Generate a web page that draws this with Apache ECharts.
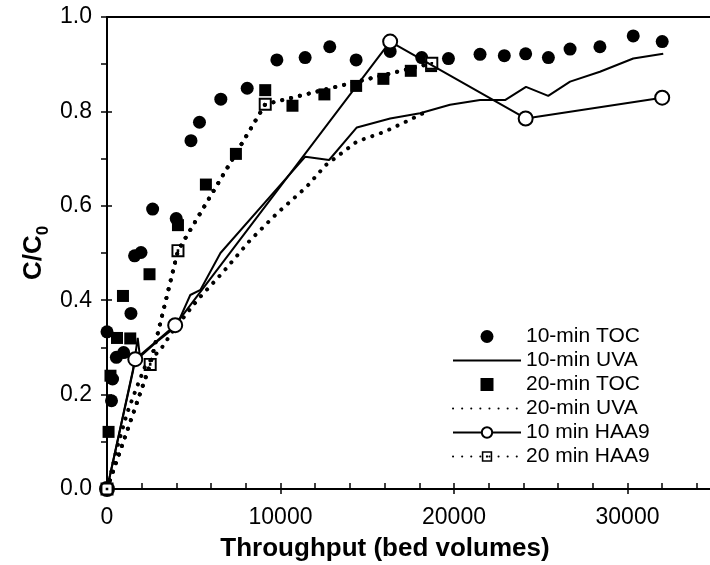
<!DOCTYPE html>
<html>
<head>
<meta charset="utf-8">
<script src="https://cdn.jsdelivr.net/npm/echarts@6/dist/echarts.min.js"></script>
<style>html,body{margin:0;padding:0;background:#fff;}#c{width:710px;height:565px;}</style>
</head>
<body>
<div id="c"></div>
<script>
// ---- data ----
const toc10 = [[0,0.333],[260,0.187],[320,0.233],[540,0.279],[960,0.289],[1380,0.372],[1590,0.494],[1960,0.501],[2630,0.593],[3990,0.573],[4840,0.738],[5330,0.777],[6560,0.826],[8080,0.849],[9790,0.909],[11420,0.914],[12840,0.937],[14360,0.909],[16320,0.927],[18140,0.914],[19680,0.912],[21500,0.921],[22900,0.918],[24130,0.922],[25440,0.914],[26690,0.932],[28410,0.937],[30330,0.960],[32000,0.948]];
const toc20 = [[90,0.121],[200,0.240],[576,0.320],[920,0.409],[1340,0.319],[2450,0.455],[4090,0.559],[5700,0.645],[7430,0.710],[9120,0.845],[10690,0.812],[12530,0.836],[14360,0.854],[15930,0.869],[17510,0.886],[18680,0.896]];
const uva10 = [[0,0],[1500,0.25],[1770,0.32],[1900,0.28],[2800,0.31],[4000,0.345],[4800,0.411],[5390,0.422],[6540,0.50],[11430,0.704],[12800,0.697],[14400,0.766],[16320,0.785],[18040,0.796],[19770,0.814],[21500,0.824],[22940,0.824],[24150,0.852],[25430,0.833],[26690,0.863],[28410,0.884],[30330,0.912],[32060,0.922]];
const uva20 = [[0,0],[600,0.09],[1150,0.16],[1730,0.217],[2200,0.26],[3170,0.30],[3840,0.337],[5200,0.40],[6700,0.46],[8250,0.527],[9800,0.584],[11500,0.64],[12600,0.686],[14400,0.736],[16000,0.757],[17100,0.776],[18600,0.803]];
const haa10 = [[0,0],[1630,0.275],[3930,0.347],[16320,0.948],[24130,0.785],[32000,0.829]];
const haa20 = [[0,0],[2490,0.264],[4090,0.505],[9120,0.815],[18720,0.902]];
const legendNames = ['10-min TOC','10-min UVA','20-min TOC','20-min UVA','10 min HAA9','20 min HAA9'];
const xTicks = {min:0, max:40000, interval:10000};
const yTicks = {min:0, max:1, interval:0.2};

const FONT = '"Liberation Sans", Arial, sans-serif';
const K = '#000';
const dotted = {type:[0.1, 9], cap:'round', width:4, color:K};
const squareSym = 'path://M0,0L10,0L10,10L0,10Z';
const haaSquare = 'path://M0,0L10,0L10,10L0,10Z M1.5,1.5L1.5,8.5L8.5,8.5L8.5,1.5Z M4,4L6,4L6,6L4,6Z';

const chart = echarts.init(document.getElementById('c'), null, {renderer:'canvas'});
chart.setOption({
  animation:false,
  backgroundColor:'#fff',
  textStyle:{fontFamily:FONT, color:K},
  grid:{left:107, width:694, top:17, bottom:76, containLabel:false, outerBoundsMode:'none'},
  legend:{
    data:legendNames, orient:'vertical', left:452, top:326, padding:0,
    itemWidth:68, itemHeight:13, itemGap:3, symbolKeepAspect:true,
    textStyle:{fontSize:21, color:K, fontFamily:FONT, lineHeight:21},
    inactiveColor:K, selectedMode:false
  },
  xAxis:[
    {type:'value', position:'bottom', min:xTicks.min, max:xTicks.max, interval:xTicks.interval,
     axisLine:{show:true, lineStyle:{color:K, width:2}},
     axisTick:{show:true, inside:true, length:6, lineStyle:{color:K, width:1.5}},
     minorTick:{show:true, splitNumber:5, length:6, lineStyle:{color:K, width:1.5}},
     splitLine:{show:false}, minorSplitLine:{show:false},
     axisLabel:{fontSize:23, color:K, margin:17, showMaxLabel:false, fontFamily:FONT, formatter:v=>String(v)},
     name:'Throughput (bed volumes)', nameLocation:'middle', nameGap:47,
     nameTextStyle:{fontSize:26, fontWeight:'bold', color:K, fontFamily:FONT, padding:[0,138,0,0]}},
    {type:'value', position:'bottom', min:xTicks.min, max:xTicks.max, interval:xTicks.interval,
     axisLine:{show:false}, axisTick:{show:true, inside:false, length:5, lineStyle:{color:K, width:1.5}},
     axisLabel:{show:false}, splitLine:{show:false}},
    {type:'value', position:'top', min:xTicks.min, max:xTicks.max, interval:xTicks.interval,
     axisLine:{show:true, lineStyle:{color:K, width:2}}, axisTick:{show:false},
     axisLabel:{show:false}, splitLine:{show:false}}
  ],
  yAxis:[
    {type:'value', position:'left', min:yTicks.min, max:yTicks.max, interval:yTicks.interval,
     axisLine:{show:true, lineStyle:{color:K, width:2}},
     axisTick:{show:true, inside:false, length:6, lineStyle:{color:K, width:1.5}},
     minorTick:{show:true, splitNumber:2, length:6, lineStyle:{color:K, width:1.5}},
     splitLine:{show:false}, minorSplitLine:{show:false},
     axisLabel:{fontSize:23, color:K, margin:15, fontFamily:FONT, formatter:v=>v.toFixed(1)},
     name:'{a|C/C}{b|0}', nameLocation:'middle', nameGap:55, nameRotate:90, nameMoveOverlap:false,
     nameTextStyle:{rich:{
       a:{fontSize:26, fontWeight:'bold', color:K, fontFamily:FONT},
       b:{fontSize:17, fontWeight:'bold', color:K, fontFamily:FONT, padding:[20,0,0,0]}
     }}},
    {type:'value', position:'left', min:yTicks.min, max:yTicks.max, interval:yTicks.interval,
     axisLine:{show:false}, axisTick:{show:true, inside:true, length:5, lineStyle:{color:K, width:1.5}},
     axisLabel:{show:false}, splitLine:{show:false}}
  ],
  series:[
    {name:'10-min TOC', type:'scatter', data:toc10, symbol:'circle', symbolSize:13, symbolKeepAspect:true,
     itemStyle:{color:K, opacity:1}},
    {name:'20-min TOC', type:'scatter', data:toc20, symbol:squareSym, symbolSize:12, symbolKeepAspect:true,
     itemStyle:{color:K, opacity:1}},
    {name:'10-min UVA', type:'line', data:uva10, symbol:'none', lineStyle:{color:K, width:2}, itemStyle:{color:K, opacity:0}},
    {name:'20-min UVA', type:'line', data:uva20, symbol:'none', lineStyle:dotted, itemStyle:{color:K, opacity:0}},
    {name:'10 min HAA9', type:'line', data:haa10, symbol:'emptyCircle', symbolSize:14, showSymbol:true,
     lineStyle:{color:K, width:2}, itemStyle:{color:K, borderColor:K, borderWidth:1.5, opacity:1}},
    {name:'20 min HAA9 line', type:'line', data:haa20, symbol:'none', lineStyle:dotted, itemStyle:{color:K}},
    {name:'haa20bg', type:'scatter', data:haa20, symbol:'rect', symbolSize:12, itemStyle:{color:'#fff', opacity:1}},
    {name:'20 min HAA9', type:'line', data:haa20, symbol:haaSquare, symbolSize:13, symbolKeepAspect:true, showSymbol:true,
     lineStyle:dotted, itemStyle:{color:K, opacity:1}}
  ]
});
</script>
</body>
</html>
